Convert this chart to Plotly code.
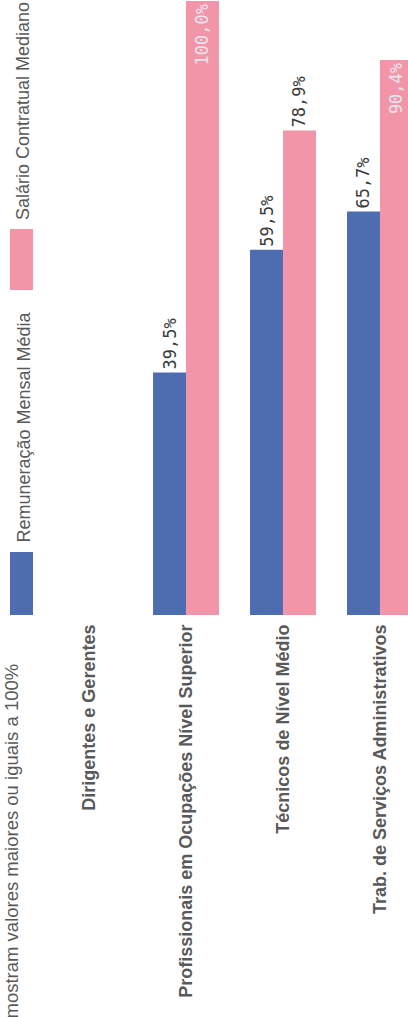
import plotly.graph_objects as go

# Occupational groups and the two salary indicators (percent)
categorias = [
    "Dirigentes e Gerentes",
    "Profissionais em Ocupações Nível Superior",
    "Técnicos de Nível Médio",
    "Trab. de Serviços Administrativos",
]
remuneracao_media = [None, 39.5, 59.5, 65.7]
salario_mediano = [None, 100.0, 78.9, 90.4]

serie_nomes = ["Remuneração Mensal Média", "Salário Contratual Mediano"]
cores = ["#4E6DB0", "#F395A9"]

W, H = 408, 1017
PLOT_BOTTOM = 615  # pixel row of the value axis baseline


def fmt(v):
    return "" if v is None else f"{v:.1f}%".replace(".", ",")


def px_x(px):
    return px / W


def px_y(py):
    return (PLOT_BOTTOM - py) / PLOT_BOTTOM


label_font = dict(family="DejaVu Sans Mono", size=17)
text_family = "Arial"

fig = go.Figure()
fig.add_trace(go.Bar(
    x=categorias, y=remuneracao_media, name=serie_nomes[0],
    marker=dict(color=cores[0], line=dict(width=0)),
    text=[fmt(v) for v in remuneracao_media],
    textposition="outside", textangle=-90,
    textfont=dict(color="#3a3a3a", **label_font),
    cliponaxis=False, constraintext="none",
))
fig.add_trace(go.Bar(
    x=categorias, y=salario_mediano, name=serie_nomes[1],
    marker=dict(color=cores[1], line=dict(width=0)),
    text=[fmt(v) for v in salario_mediano],
    textposition=["outside", "inside", "outside", "inside"],
    insidetextanchor="end", textangle=-90,
    insidetextfont=dict(color="#E8E4F0", **label_font),
    outsidetextfont=dict(color="#3a3a3a", **label_font),
    cliponaxis=False, constraintext="none",
))

fig.update_layout(
    width=W, height=H, autosize=False,
    margin=dict(l=0, r=0, t=0, b=H - PLOT_BOTTOM, pad=0),
    paper_bgcolor="white", plot_bgcolor="white",
    barmode="group", bargap=0.32, bargroupgap=0,
    showlegend=False,
    font=dict(family=text_family, color="#595959"),
)
fig.update_xaxes(
    range=[-0.918, 3.289], showgrid=False, showline=False, zeroline=False,
    tickangle=-90, ticks="", ticklabelstandoff=5,
    tickfont=dict(family=text_family, size=18, color="#595959", weight="bold"),
)
fig.update_yaxes(range=[0, 100.16], visible=False, showgrid=False, zeroline=False)

# Vertical legend: swatches and rotated labels
legend_items = [
    (serie_nomes[0], cores[0], 552, 615, 545),
    (serie_nomes[1], cores[1], 229, 290, 222),
]
for nome, cor, y_top, y_bot, y_txt in legend_items:
    fig.add_shape(type="rect", xref="paper", yref="paper",
                  x0=px_x(10), x1=px_x(33), y0=px_y(y_bot), y1=px_y(y_top),
                  fillcolor=cor, line=dict(width=0))
    fig.add_annotation(text=nome, xref="paper", yref="paper",
                       x=px_x(23), y=px_y(y_txt), xanchor="center", yanchor="bottom",
                       textangle=-90, showarrow=False,
                       font=dict(family=text_family, size=18, color="#595959"))

# Note along the left edge
fig.add_annotation(text="mostram valores maiores ou iguais a 100%",
                   xref="paper", yref="paper", x=px_x(11), y=px_y(662),
                   xanchor="center", yanchor="top", textangle=-90, showarrow=False,
                   font=dict(family=text_family, size=18.5, color="#595959"))

fig.write_html("out.html")
